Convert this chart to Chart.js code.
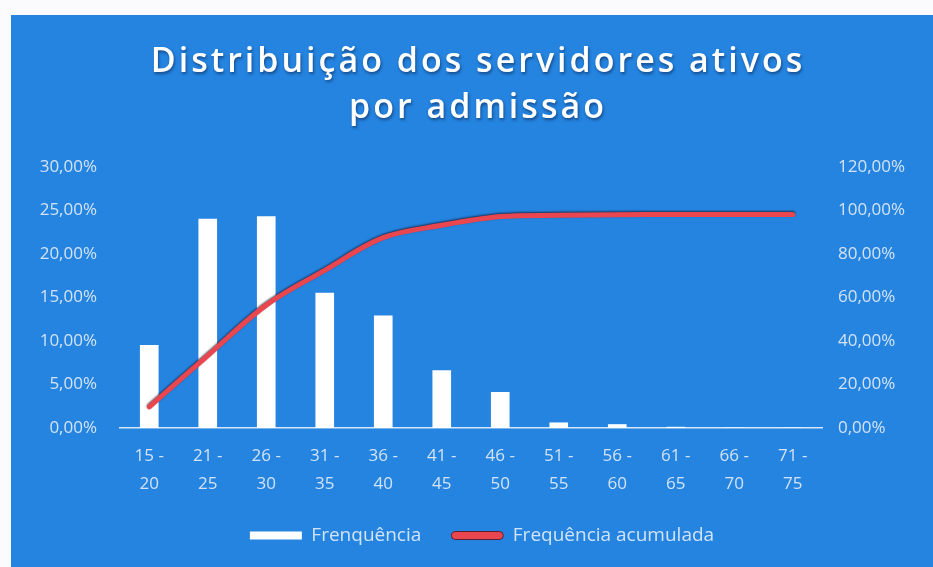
<!DOCTYPE html>
<html lang="pt">
<head>
    <meta charset="UTF-8">
    <title>Distribuição dos servidores ativos por admissão</title>
    <script src="https://cdn.jsdelivr.net/npm/chart.js"></script>
    <style>
        html, body {
            margin: 0;
            padding: 0;
            background: #fbfbfd;
        }
        .card {
            position: absolute;
            left: 11px;
            top: 15px;
            width: 922px;
            height: 552px;
            background-color: #2484e0;
        }
    </style>
</head>
<body>
    <div class="card">
        <canvas id="chart" width="922" height="552"></canvas>
    </div>
    <script>
        // faixas de idade na admissão
        const faixas = [
            ['15 -', '20'], ['21 -', '25'], ['26 -', '30'], ['31 -', '35'],
            ['36 -', '40'], ['41 -', '45'], ['46 -', '50'], ['51 -', '55'],
            ['56 -', '60'], ['61 -', '65'], ['66 -', '70'], ['71 -', '75']
        ];
        // valores em %
        const frequencia = [9.5, 24.0, 24.3, 15.5, 12.9, 6.6, 4.1, 0.6, 0.4, 0.1, 0, 0];
        const acumulada = [9.7, 33.3, 56.5, 72.5, 87.5, 93.2, 97.2, 97.8, 98.1, 98.2, 98.2, 98.2];
        const ticksEsquerda = [0, 5, 10, 15, 20, 25, 30];
        const ticksDireita = [0, 20, 40, 60, 80, 100, 120];
        const titulo = ['Distribuição dos servidores ativos', 'por admissão'];

        const corTexto = '#d3e3f7';
        const fonte = "'Open Sans', sans-serif";

        const fmt = v => v.toFixed(2).replace('.', ',') + '%';

        // contorno escuro da linha vermelha
        const sombraLinha = {
            id: 'sombraLinha',
            beforeDatasetDraw(chart, args) {
                if (args.meta.type === 'line') {
                    const ctx = chart.ctx;
                    ctx.save();
                    ctx.shadowColor = 'rgba(20, 20, 40, 0.75)';
                    ctx.shadowBlur = 2;
                    ctx.shadowOffsetY = -1;
                }
            },
            afterDatasetDraw(chart, args) {
                if (args.meta.type === 'line') chart.ctx.restore();
            }
        };

        // título com espaçamento entre letras e sombra
        const tituloEspacado = {
            id: 'tituloEspacado',
            afterDraw(chart) {
                const ctx = chart.ctx;
                ctx.save();
                ctx.font = "600 34px 'Open Sans', sans-serif";
                ctx.letterSpacing = '3px';
                ctx.fillStyle = '#ffffff';
                ctx.textAlign = 'center';
                ctx.textBaseline = 'middle';
                ctx.shadowColor = 'rgba(10, 30, 70, 0.55)';
                ctx.shadowBlur = 3;
                ctx.shadowOffsetX = 1;
                ctx.shadowOffsetY = 2;
                ctx.fillText(titulo[0], 467, 47);
                ctx.fillText(titulo[1], 467, 93);
                ctx.restore();
            }
        };

        new Chart(document.getElementById('chart'), {
            data: {
                labels: faixas,
                datasets: [{
                    type: 'bar',
                    label: 'Frenquência',
                    data: frequencia,
                    backgroundColor: '#ffffff',
                    borderWidth: 0,
                    barThickness: 18,
                    yAxisID: 'y',
                    order: 1
                }, {
                    type: 'line',
                    label: 'Frequência acumulada',
                    data: acumulada,
                    borderColor: '#ea464f',
                    backgroundColor: '#ea464f',
                    borderWidth: 5,
                    borderCapStyle: 'round',
                    pointRadius: 0,
                    tension: 0.35,
                    fill: false,
                    yAxisID: 'y1',
                    order: 0
                }]
            },
            options: {
                responsive: false,
                animation: false,
                layout: { padding: { left: 20, right: 0, top: 152, bottom: 12 } },
                plugins: {
                    title: { display: false },
                    legend: {
                        position: 'bottom',
                        labels: {
                            color: corTexto,
                            font: { family: fonte, size: 19 },
                            boxWidth: 52,
                            boxHeight: 8,
                            padding: 30,
                            sort: (a, b) => a.datasetIndex - b.datasetIndex,
                            generateLabels(chart) {
                                const itens = Chart.defaults.plugins.legend.labels.generateLabels(chart);
                                itens.forEach(it => {
                                    if (it.datasetIndex === 1) {
                                        it.lineWidth = 1;
                                        it.strokeStyle = '#5a2030';
                                        it.borderRadius = 4;
                                    } else {
                                        it.lineWidth = 0;
                                    }
                                });
                                return itens;
                            }
                        }
                    },
                    tooltip: { enabled: false }
                },
                scales: {
                    x: {
                        grid: { display: false, drawTicks: false },
                        border: { display: true, color: 'rgba(235, 242, 252, 0.9)', width: 1.5 },
                        ticks: {
                            color: corTexto,
                            font: { family: fonte, size: 17, lineHeight: 28 / 17 },
                            padding: 14,
                            maxRotation: 0
                        },
                        afterFit(scale) { scale.height = 68; }
                    },
                    y: {
                        position: 'left',
                        min: 0,
                        max: 30,
                        grid: { display: false, drawTicks: false },
                        border: { display: false },
                        afterBuildTicks(scale) { scale.ticks = ticksEsquerda.map(v => ({ value: v })); },
                        ticks: {
                            color: corTexto,
                            font: { family: fonte, size: 17 },
                            padding: 23,
                            callback: v => fmt(v)
                        },
                        afterFit(scale) { scale.width = 89; }
                    },
                    y1: {
                        position: 'right',
                        min: 0,
                        max: 120,
                        grid: { display: false, drawTicks: false },
                        border: { display: false },
                        afterBuildTicks(scale) { scale.ticks = ticksDireita.map(v => ({ value: v })); },
                        ticks: {
                            color: corTexto,
                            font: { family: fonte, size: 17 },
                            padding: 16,
                            callback: v => fmt(v)
                        },
                        afterFit(scale) { scale.width = 111; }
                    }
                }
            },
            plugins: [sombraLinha, tituloEspacado]
        });
    </script>
</body>
</html>
